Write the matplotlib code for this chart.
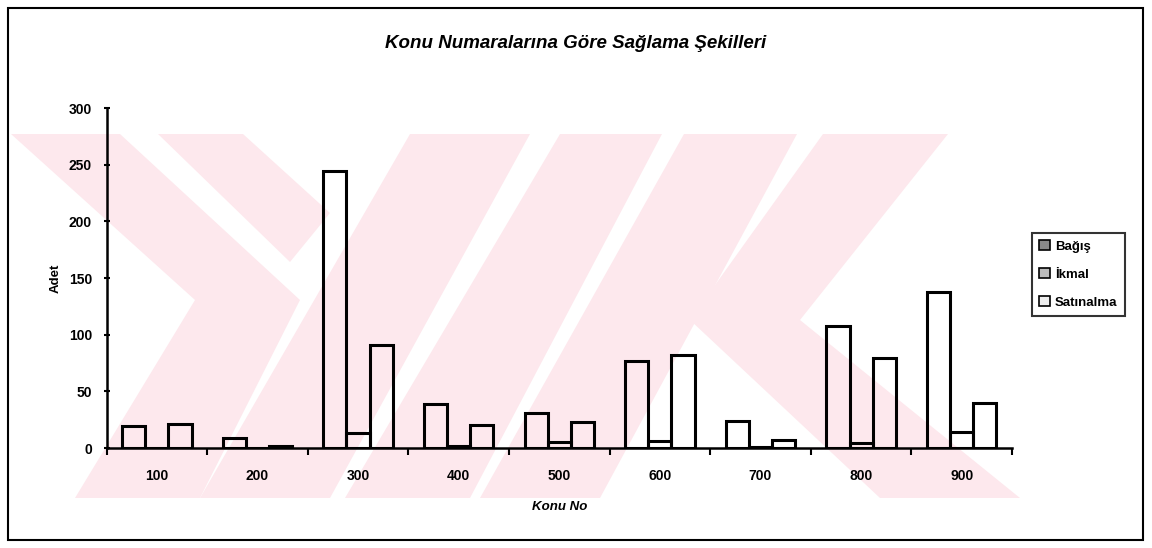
import matplotlib.pyplot as plt
from matplotlib.patches import Polygon, Rectangle
import numpy as np

# data
konu_no = ["100", "200", "300", "400", "500", "600", "700", "800", "900"]
bagis = [19, 9, 244, 39, 31, 77, 24, 108, 138]
ikmal = [0, 0, 13, 2, 5, 6, 1, 4, 14]
satinalma = [21, 2, 91, 20, 23, 82, 7, 79, 40]
series_names = ["Bağış", "İkmal", "Satınalma"]

plt.rcParams["font.family"] = ["Liberation Sans", "DejaVu Sans"]

W, H = 1152, 548
fig = plt.figure(figsize=(W / 100, H / 100), dpi=100)
fig.patch.set_facecolor("white")


def px(points):
    # pixel coords (y down) -> figure fraction
    return [(x / W, 1 - y / H) for x, y in points]


# faint pink watermark behind the chart (scan background)
pink = "#fde8ed"
wm_shapes = [
    [(11, 134), (120, 134), (300, 300), (200, 498), (75, 498), (195, 300)],
    [(158, 134), (243, 134), (330, 213), (290, 262)],
    [(200, 498), (330, 498), (530, 134), (410, 134)],
    [(345, 498), (470, 498), (662, 134), (560, 134)],
    [(480, 498), (600, 498), (797, 134), (684, 134)],
    [(823, 134), (948, 134), (800, 320), (1020, 498), (880, 498), (690, 320)],
]
for shp in wm_shapes:
    fig.add_artist(Polygon(px(shp), closed=True, transform=fig.transFigure,
                           facecolor=pink, edgecolor="none", zorder=0))

ax = fig.add_axes([106.5 / W, 1 - 448 / H, (1012 - 106.5) / W, (448 - 108) / H])
ax.patch.set_alpha(0)

x = np.arange(len(konu_no))
w = 0.23
for i, vals in enumerate([bagis, ikmal, satinalma]):
    ax.bar(x + (i - 1) * w, vals, width=w, facecolor="none", edgecolor="black",
           linewidth=2.2, label=series_names[i], zorder=3)

ax.set_xlim(-0.5, len(konu_no) - 0.5)
ax.set_ylim(0, 300)
ax.set_yticks(range(0, 301, 50))
ax.set_xticks(np.arange(len(konu_no) + 1) - 0.5)
ax.set_xticklabels([])
ax.set_xticks(x, minor=True)
ax.set_xticklabels(konu_no, minor=True, fontsize=10, fontweight="bold")
ax.tick_params(axis="x", which="minor", length=0, pad=15)
ax.tick_params(axis="x", which="major", length=5, width=1.5, direction="out")
ax.tick_params(axis="y", length=5, width=1.5, direction="inout", labelsize=10, pad=8)
for lab in ax.get_yticklabels():
    lab.set_fontweight("bold")

for s in ["top", "right"]:
    ax.spines[s].set_visible(False)
for s in ["left", "bottom"]:
    ax.spines[s].set_linewidth(1.8)

ax.set_ylabel("Adet", fontsize=9.5, fontweight="bold", labelpad=5)
ax.set_xlabel("Konu No", fontsize=9.5, fontweight="bold", style="italic", labelpad=13)

fig.text(0.5, 1 - 43 / H, "Konu Numaralarına Göre Sağlama Şekilleri",
         ha="center", va="center", fontsize=13.5, fontweight="bold", style="italic")

leg = ax.legend(loc="upper left", bbox_to_anchor=((1032 - 106.5) / (1012 - 106.5), (448 - 233) / (448 - 108)),
                frameon=True, fancybox=False, edgecolor="black", fontsize=9.5,
                handlelength=0.8, handleheight=0.8, handletextpad=0.4,
                labelspacing=1.15, borderpad=0.55, borderaxespad=0)
leg.get_frame().set_linewidth(1.5)
for t in leg.get_texts():
    t.set_fontweight("bold")
for hnd, fc in zip(leg.legend_handles, ["#888888", "#bbbbbb", "#eeeeee"]):
    hnd.set_facecolor(fc)
    hnd.set_linewidth(1.2)

# outer border of the scanned chart
fig.add_artist(Rectangle((8 / W, 1 - 540 / H), (1143 - 8) / W, (540 - 8) / H,
                         transform=fig.transFigure, fill=False, edgecolor="black", linewidth=1.5))

fig.savefig("out.png", dpi=100)
